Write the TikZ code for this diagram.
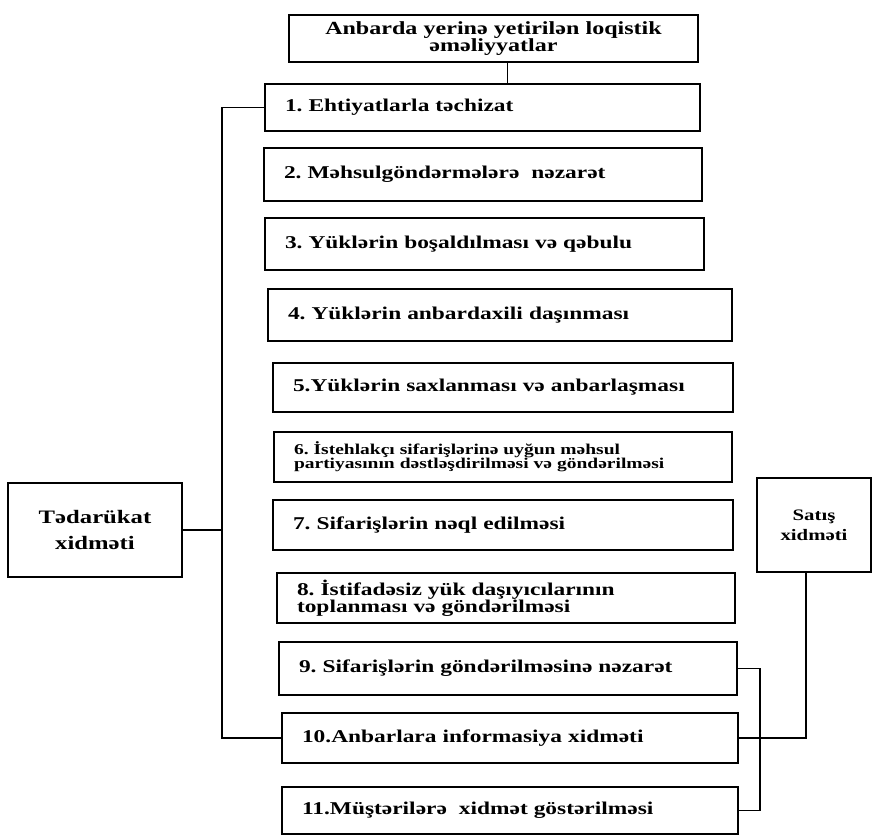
\documentclass[tikz,border=0pt]{standalone}
\usepackage{fontspec}
\setmainfont{Liberation Serif}[FakeStretch=1.3]
\begin{document}
\frenchspacing
\begin{tikzpicture}[x=1pt,y=-1pt,
  box/.style={draw, line width=1.8pt, inner xsep=20pt, inner ysep=0pt, align=left,
    font=\bfseries\fontsize{18}{19}\selectfont},
  boxsix/.style={box, font=\bfseries\fontsize{15}{14}\selectfont},
  boxeight/.style={box, font=\bfseries\fontsize{18}{15}\selectfont},
  side/.style={draw, line width=1.8pt, inner sep=0pt, align=center},
  conn/.style={line width=1.8pt}]
\useasboundingbox (0,0) rectangle (874,836);
\node[box, align=center, text width=369pt, minimum height=47pt, font=\bfseries\fontsize{18.5}{14}\selectfont] (top) at (493.5,38.5) {Anbarda yerinə yetirilən loqistik\\əməliyyatlar};
\node[box, text width=395pt, minimum height=47pt] (b1) at (482.5,107.5) {1. Ehtiyatlarla təchizat};
\node[box, text width=398pt, minimum height=53pt] (b2) at (483,174.5) {2. Məhsulgöndərmələrə\ \ nəzarət};
\node[box, text width=399pt, minimum height=52pt] (b3) at (484.5,244) {3. Yüklərin boşaldılması və qəbulu};
\node[box, text width=424pt, minimum height=52pt] (b4) at (500,315) {4. Yüklərin anbardaxili daşınması};
\node[box, text width=420pt, minimum height=49pt] (b5) at (503,387.5) {5.Yüklərin saxlanması və anbarlaşması};
\node[boxsix, text width=418pt, minimum height=50pt] (b6) at (503,457) {6. İstehlakçı sifarişlərinə uyğun məhsul\\partiyasının dəstləşdirilməsi və göndərilməsi};
\node[box, text width=420pt, minimum height=50pt] (b7) at (503,525) {7. Sifarişlərin nəql edilməsi};
\node[boxeight, text width=418pt, minimum height=50pt] (b8) at (506,598) {8. İstifadəsiz yük daşıyıcılarının\\toplanması və göndərilməsi};
\node[box, text width=418pt, minimum height=53pt] (b9) at (508,668.5) {9. Sifarişlərin göndərilməsinə nəzarət};
\node[box, text width=416pt, minimum height=50pt] (b10) at (510,738) {10.Anbarlara informasiya xidməti};
\node[box, text width=416pt, minimum height=47pt] (b11) at (510,810.5) {11.Müştərilərə\ \ xidmət göstərilməsi};
\node[side, minimum width=174pt, minimum height=94pt, font=\bfseries\fontsize{19}{26}\selectfont] (tl) at (95,530) {Tədarükat\\xidməti};
\node[side, minimum width=114pt, minimum height=94pt, font=\bfseries\fontsize{16}{20}\selectfont] (sat) at (814,525) {Satış\\xidməti};
% connectors
\coordinate (spine) at (222,0);
\coordinate (rb) at (760,0);
\coordinate (rs) at (806,0);
\draw[conn] ([xshift=14pt]top.south) -- ([xshift=14pt]top.south |- b1.north);
\draw[conn] (b1.west) -- (b1.west -| spine) -- (b10.west -| spine) -- (b10.west);
\draw[conn] (tl.east) -- (tl.east -| spine);
\draw[conn] (b9.east) -- (b9.east -| rb) -- (b11.east -| rb) -- (b11.east);
\draw[conn] (b10.east) -- (b10.east -| rs) -- (sat.south -| rs);
\end{tikzpicture}
\end{document}
